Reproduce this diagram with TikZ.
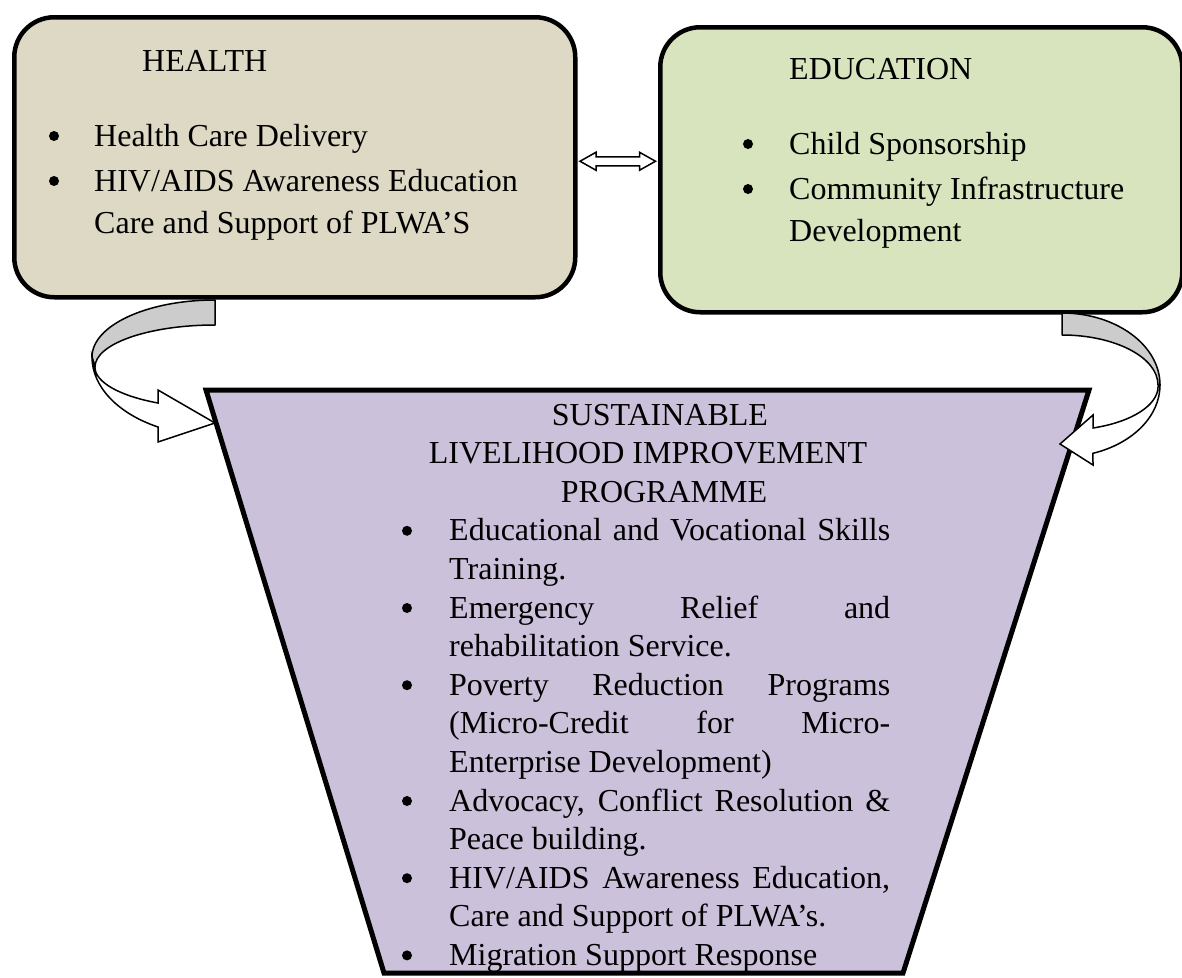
\documentclass[tikz,border=0pt]{standalone}
\usepackage{fontspec}
\setmainfont{Liberation Serif}
\usetikzlibrary{calc}
\definecolor{healthfill}{HTML}{DDD9C4}
\definecolor{edufill}{HTML}{D7E4BD}
\definecolor{slipfill}{HTML}{CCC1DA}
\definecolor{bandgray}{HTML}{CCCCCC}
\begin{document}
\begin{tikzpicture}[x=1pt,y=-1pt,
  topbox/.style={draw=black, line width=4.5pt, rounded corners=40pt, inner sep=0pt, anchor=north west},
  big/.style={font=\fontsize{32}{38}\selectfont, inner sep=0pt, anchor=base west},
  title/.style={font=\fontsize{32}{38}\selectfont, inner sep=0pt, anchor=base},
  dot/.style={circle, fill=black, inner sep=0pt, minimum size=10pt},
  band/.style={draw=black, line width=1.5pt, fill=bandgray, line join=round},
  ribbon/.style={draw=black, line width=1.5pt, fill=white, line join=miter},
  dblarrow/.style={draw=black, line width=1.5pt, fill=white},
  slip/.style={draw=black, line width=5pt, fill=slipfill}
]
\useasboundingbox (0,0) rectangle (1182,977);

% the two programme boxes
\node[topbox, fill=healthfill, minimum width=561pt, minimum height=280pt] (health) at (12,15) {};
\node[topbox, fill=edufill, minimum width=522pt, minimum height=285pt] (edu) at (658,25) {};

% health text
\node[big] (hT) at (142,71) {HEALTH};
\node[dot] (hb1) at (54,136) {};
\node[big] (h1) at (94,146) {Health Care Delivery};
\node[dot] (hb2) at (54,181) {};
\node[big] (h2) at (94,191) {HIV/AIDS Awareness Education};
\node[big] (h3) at (94,233) {Care and Support of PLWA’S};

% education text
\node[big] (eT) at (789,79) {EDUCATION};
\node[dot] (eb1) at (748,144) {};
\node[big] (e1) at (789,154) {Child Sponsorship};
\node[dot] (eb2) at (748,189) {};
\node[big] (e2) at (789,199) {Community Infrastructure};
\node[big] (e3) at (789,241) {Development};

% two-way link between the boxes
\coordinate (dl) at ($(health.east)+(2.5,4)$);
\coordinate (dr) at ($(dl -| edu.west)+(-2.5,0)$);
\draw[dblarrow] (dl) -- ++(16,-9) -- ++(0,4.5) -- ($(dr)+(-16,-4.5)$) -- ++(0,-4.5) -- (dr)
  -- ++(-16,9) -- ++(0,-4.5) -- ($(dl)+(16,4.5)$) -- ++(0,4.5) -- cycle;

% livelihood trapezium
\coordinate (s1) at (206,390);
\coordinate (s2) at (1089,390);
\coordinate (s3) at (903,973);
\coordinate (s4) at (384,973);
\draw[slip] (s1) -- (s2) -- (s3) -- (s4) -- cycle;

\node[title] (t1) at (660,425) {SUSTAINABLE};
\node[title] (t2) at (648,463.6) {LIVELIHOOD IMPROVEMENT};
\node[title] (t3) at (664,502.2) {PROGRAMME};

\node[dot] (b1) at (407,530.8) {};
\node[big] (l1) at (449,540.8) {\makebox[441pt][s]{Educational and Vocational Skills}};
\node[big] (l2) at (449,579.4) {Training.};
\node[dot] (b2) at (407,608) {};
\node[big] (l3) at (449,618) {\makebox[441pt][s]{Emergency Relief and}};
\node[big] (l4) at (449,656.6) {rehabilitation Service.};
\node[dot] (b3) at (407,685.2) {};
\node[big] (l5) at (449,695.2) {\makebox[441pt][s]{Poverty Reduction Programs}};
\node[big] (l6) at (449,733.8) {\makebox[441pt][s]{(Micro-Credit for Micro-}};
\node[big] (l7) at (449,772.4) {Enterprise Development)};
\node[dot] (b4) at (407,801) {};
\node[big] (l8) at (449,811) {\makebox[441pt][s]{Advocacy, Conflict Resolution \&}};
\node[big] (l9) at (449,849.6) {Peace building.};
\node[dot] (b5) at (407,878.2) {};
\node[big] (l10) at (449,888.2) {\makebox[441pt][s]{HIV/AIDS Awareness Education,}};
\node[big] (l11) at (449,926.8) {Care and Support of PLWA’s.};
\node[dot] (b6) at (407,955.4) {};
\node[big] (l12) at (449,965.4) {Migration Support Response};

% curved ribbon arrow from the health box
\draw[band] (215,300) arc[start angle=90,end angle=180,x radius=123pt,y radius=57pt]
  -- (95,367) arc[start angle=180,end angle=90,x radius=120pt,y radius=42pt] -- cycle;
\draw[ribbon] (92,357) arc[start angle=180,end angle=242.4,x radius=123pt,y radius=79pt]
  -- (158,442) -- (215,423) -- (158,390) -- (158,403)
  arc[start angle=241.7,end angle=180,x radius=120pt,y radius=41pt] -- cycle;

% curved ribbon arrow from the education box
\draw[band] (1062,313) arc[start angle=90,end angle=0,x radius=98pt,y radius=72pt]
  -- (1158,385) arc[start angle=0,end angle=90,x radius=96pt,y radius=50pt] -- cycle;
\draw[ribbon] (1160,385) arc[start angle=0,end angle=-71.6,x radius=98pt,y radius=72pt]
  -- (1093,465) -- (1060,444) -- (1093,415) -- (1093,428)
  arc[start angle=-71.2,end angle=0,x radius=96pt,y radius=44pt] -- cycle;
\end{tikzpicture}
\end{document}
